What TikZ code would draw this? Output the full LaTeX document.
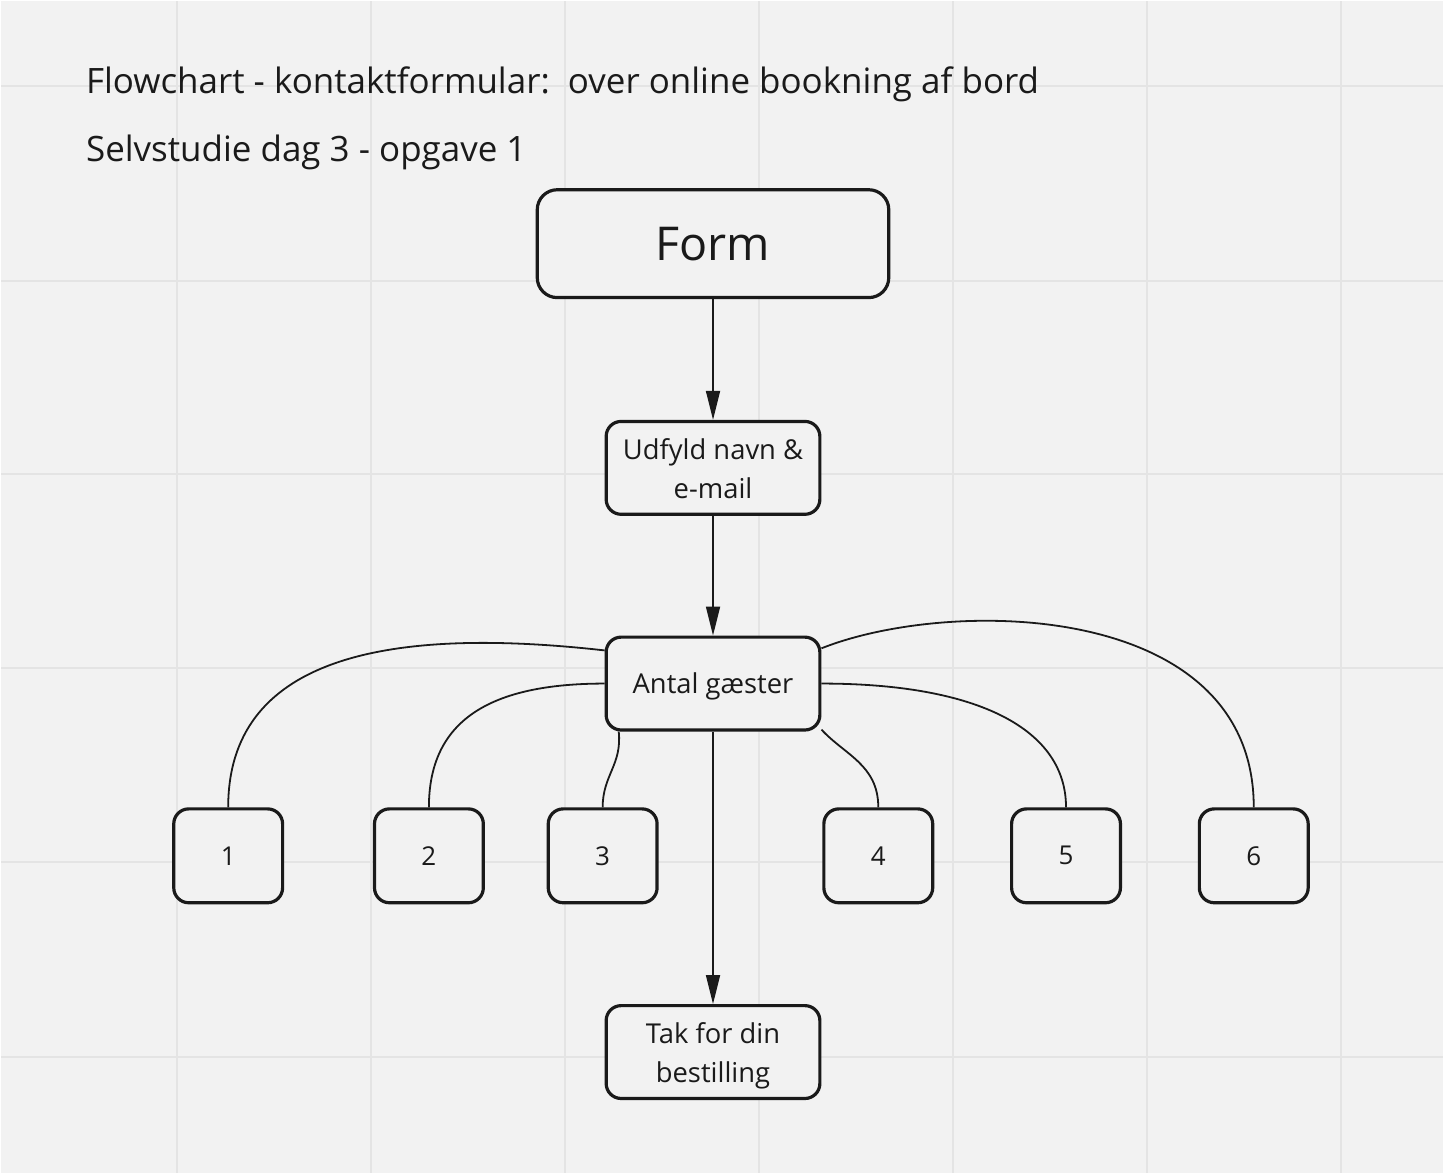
\documentclass[tikz,border=0pt]{standalone}
\usepackage{fontspec}
\setmainfont{Open Sans}
\usetikzlibrary{arrows.meta}
\definecolor{bg}{HTML}{F2F2F2}
\definecolor{gridc}{HTML}{E4E4E4}
\definecolor{ink}{HTML}{1A1A1A}
\pgfdeclarelayer{bgl}
\pgfdeclarelayer{conl}
\pgfsetlayers{bgl,conl,main}
\newcommand\lowr[1]{\raisebox{-3pt}[\height][\depth]{#1}}
\newcommand\twolines[2]{\lowr{\begin{tabular}{@{}c@{}}#1\\#2\end{tabular}}}
\begin{document}
\begin{tikzpicture}[x=1pt,y=-1pt,
  box/.style={draw=ink,fill=bg,line width=3.2pt,rounded corners=15pt,minimum width=214pt,minimum height=93pt,inner sep=0pt,text=ink,font=\fontsize{27.4}{39}\selectfont},
  numbox/.style={box,minimum width=109pt,minimum height=94pt,font=\fontsize{26}{39}\selectfont},
  formbox/.style={box,minimum width=352pt,minimum height=108pt,rounded corners=20pt,font=\fontsize{46.7}{56}\selectfont},
  conn/.style={draw=ink,line width=1.8pt},
  arr/.style={conn,-{Triangle[length=29pt,width=14pt]}},
  title/.style={anchor=base west,inner sep=0pt,text=ink,font=\fontsize{35}{42}\selectfont}]
\begin{pgfonlayer}{bgl}
\fill[bg] (0,0) rectangle (1444,1174);
\foreach \x in {176,371,565,759,953,1148,1342} \draw[gridc,line width=2pt] (\x,0) -- (\x,1174);
\foreach \y in {85,280,474,668,862,1057} \draw[gridc,line width=2pt] (0,\y) -- (1444,\y);
\end{pgfonlayer}
\useasboundingbox (0,0) rectangle (1444,1174);

\node[title] (t1) at (85,93) {Flowchart - kontaktformular:\ \ over online bookning af bord};
\node[title] (t2) at (85,161) {Selvstudie dag 3 - opgave 1};

\node[formbox] (form) at (713,243) {Form};
\node[box] (udfyld) at (713,467.5) {\twolines{Udfyld navn \&}{e-mail}};
\node[box] (antal) at (713,683.5) {\lowr{Antal gæster}};
\node[box] (tak) at (713,1052.5) {\twolines{Tak for din}{bestilling}};

\node[numbox] (n1) at (227.5,856) {1};
\node[numbox] (n2) at (428.5,856) {2};
\node[numbox] (n3) at (602.5,856) {3};
\node[numbox] (n4) at (878.5,856) {4};
\node[numbox] (n5) at (1066.5,856) {5};
\node[numbox] (n6) at (1254.5,856) {6};

\begin{pgfonlayer}{conl}
\draw[arr] (form.south) -- (udfyld.north);
\draw[arr] (udfyld.south) -- (antal.north);
\draw[arr] (antal.south) -- (tak.north);
\draw[conn] (antal.163) .. controls (380,625) and (227.5,660) .. (n1.north);
\draw[conn] (antal.west) .. controls (490,683.5) and (428.5,720) .. (n2.north);
\draw[conn] (antal.207) .. controls (622,765) and (602.5,775) .. (n3.north);
\draw[conn] (antal.337) .. controls (845,755) and (878.5,765) .. (n4.north);
\draw[conn] (antal.east) .. controls (980,683.5) and (1066.5,730) .. (n5.north);
\draw[conn] (antal.18) .. controls (950,597) and (1254.5,600) .. (n6.north);
\end{pgfonlayer}
\end{tikzpicture}
\end{document}
